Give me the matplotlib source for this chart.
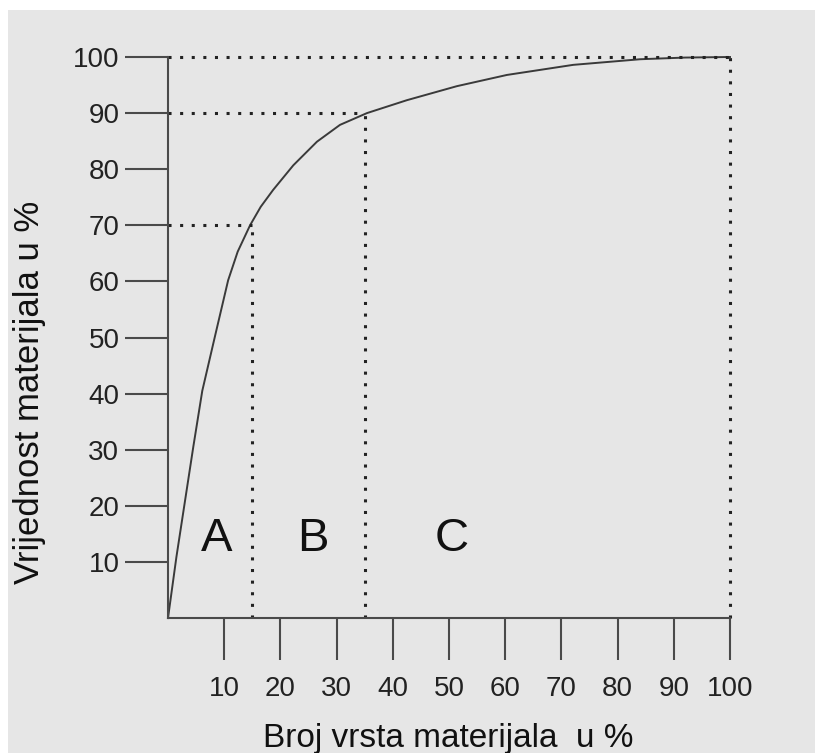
import matplotlib
matplotlib.use('Agg')
import matplotlib.pyplot as plt
from matplotlib.patches import Rectangle

plt.rcParams['font.family'] = ['Liberation Sans', 'DejaVu Sans']

# curve
x_curve = [0, 1.5, 3.0, 4.5, 6.1, 8.4, 10.7, 12.4, 14.6, 16.5, 18.7, 22.3, 26.5,
           30.6, 35.4, 42.5, 51.4, 60.3, 72.1, 84.0, 92.0, 100]
y_curve = [0, 10.9, 20.7, 30.5, 40.5, 50.4, 60.2, 65.3, 70.0, 73.3, 76.3, 80.7, 84.9,
           87.9, 90.0, 92.3, 94.8, 96.8, 98.6, 99.6, 99.9, 100]

# class boundaries (x, y)
bound_x = [15, 35, 100]
bound_y = [70, 90, 100]

zones = ['A', 'B', 'C']
zone_x = [8.7, 25.8, 50.5]
zone_y = 14

ticks = [10, 20, 30, 40, 50, 60, 70, 80, 90, 100]

bg = '#e6e6e6'
axc = '#4a4a4a'

fig = plt.figure(figsize=(8.15, 7.53), dpi=100)
fig.patch.set_facecolor('white')
fig.patches.append(Rectangle((8/815, 0), 1, 1 - 10/753, transform=fig.transFigure,
                             facecolor=bg, edgecolor='none', zorder=-10))

ax = fig.add_axes([168/815, 135/753, 562/815, 561/753])
ax.set_facecolor('none')
ax.set_xlim(0, 100)
ax.set_ylim(0, 100)

ax.plot(x_curve, y_curve, color='#3a3a3a', lw=1.4, clip_on=False,
        solid_joinstyle='round')

dots = dict(color='#222222', lw=2.2, linestyle=(0, (1, 2.8)), clip_on=False)
for bx, by in zip(bound_x, bound_y):
    ax.plot([0, bx], [by, by], **dots)
    ax.plot([bx, bx], [0, by], **dots)

for z, zx in zip(zones, zone_x):
    ax.text(zx, zone_y, z, fontsize=34, ha='center', va='center', color='#111111')

for s in ['top', 'right']:
    ax.spines[s].set_visible(False)
for s in ['left', 'bottom']:
    ax.spines[s].set_color(axc)
    ax.spines[s].set_linewidth(1.5)

ax.set_xticks(ticks)
ax.set_yticks(ticks)
ax.set_xticklabels([str(t) for t in ticks])
ax.set_yticklabels([str(t) for t in ticks])
ax.tick_params(axis='x', direction='out', length=30, width=1.5, color=axc,
               labelsize=20, pad=12, labelcolor='#222222')
ax.tick_params(axis='y', direction='out', length=31, width=1.5, color=axc,
               labelsize=20, pad=4, labelcolor='#222222')

fig.text(448/815, (753 - 738)/753, 'Broj vrsta materijala  u %', fontsize=24,
         ha='center', va='center', color='#111111')
fig.text(30/815, (753 - 392)/753, 'Vrijednost materijala u %', fontsize=25,
         ha='center', va='center', rotation=90, color='#111111')

fig.savefig('out.png', dpi=100, facecolor=fig.get_facecolor())
